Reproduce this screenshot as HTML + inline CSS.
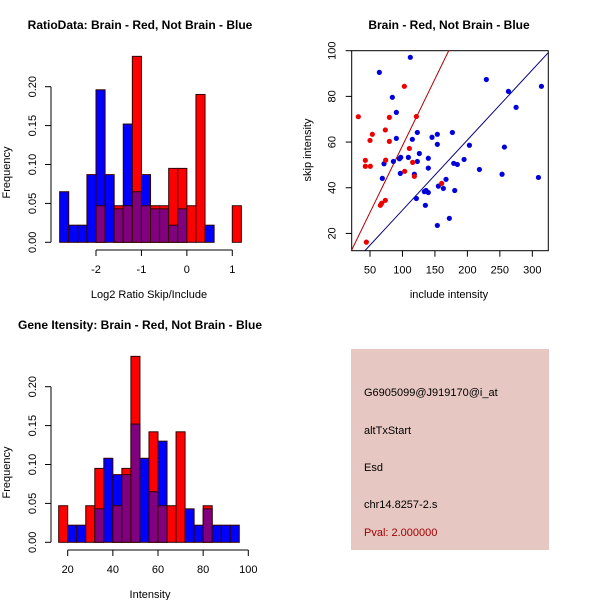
<!DOCTYPE html>
<html><head><meta charset="utf-8">
<style>
body{margin:0;background:#fff;}
svg{display:block;font-family:"Liberation Sans",sans-serif;}
</style></head>
<body>
<svg id="c" width="600" height="600" xmlns="http://www.w3.org/2000/svg">
<rect width="600" height="600" fill="#fff"/>
<text x="140" y="29" text-anchor="middle" font-size="12" font-weight="bold">RatioData: Brain - Red, Not Brain - Blue</text>
<text x="449" y="29" text-anchor="middle" font-size="12" font-weight="bold">Brain - Red, Not Brain - Blue</text>
<text x="140" y="329" text-anchor="middle" font-size="12" font-weight="bold">Gene Itensity: Brain - Red, Not Brain - Blue</text>
<g id="h1"></g>
<g id="sc"></g>
<g id="h2"></g>
<g>
<rect x="351" y="349" width="198" height="201" fill="#e6c7c1"/>
<text x="364" y="396" font-size="11">G6905099@J919170@i_at</text>
<text x="364" y="434" font-size="11">altTxStart</text>
<text x="364" y="471" font-size="11">Esd</text>
<text x="364" y="508" font-size="11">chr14.8257-2.s</text>
<text x="364" y="536" font-size="11" fill="#a00000">Pval: 2.000000</text>
</g>
</svg>
<script>
// Ratio histogram data
const ratioStart = -2.8, ratioBinWidth = 0.2;
const ratioBlue = [0.065,0.022,0.022,0.087,0.196,0.087,0.043,0.152,0.065,0.087,0.043,0.043,0.022,0.043,0,0,0.022,0,0,0];
const ratioRed  = [0,0,0,0,0.047,0,0.047,0.047,0.239,0.047,0.047,0.047,0.095,0.095,0.047,0.19,0,0,0,0.047];
const ratioXTicks = [-2,-1,0,1];
const freqTicks = [0,0.05,0.10,0.15,0.20];
const freqTickLabels = ["0.00","0.05","0.10","0.15","0.20"];
// Intensity histogram data
const intStart = 16, intBinWidth = 4;
const intBlue = [0,0.022,0.022,0,0.043,0.108,0.087,0.087,0.152,0.108,0.065,0.130,0,0,0.043,0.022,0.043,0.022,0.022,0.022];
const intRed  = [0.047,0,0,0.047,0.095,0,0.047,0.095,0.239,0,0.142,0.047,0.047,0.142,0,0,0.047,0,0,0];
const intXTicks = [20,40,60,80,100];
// Scatter data
const redInclude = [32,102.9,121.4,79.8,73.6,53.6,50,79.8,110.6,42.8,74.1,42.8,50.5,115.7,103.4,118.3,65.9,68,73.6,160.4,44.4];
const redSkip    = [71.1,84.4,71.2,70.8,65.3,63.4,60.7,60.3,57.2,52,52.1,49.4,49.4,51.1,47.2,45,32.3,33.2,34.5,41.9,16.2];
const blueInclude = [112.1,64.4,229.2,314,263.2,275,84.4,90.6,122.9,176.9,153.7,145.5,90.6,115.2,153.7,203.1,257,126,109.1,97.3,95.3,139.8,194.9,86,71.6,122.9,178.9,184.5,139.8,218.5,96.7,118.3,253.4,309.4,69,167.1,155.3,163,180.5,136.3,133.7,139.8,121.4,135.3,172.2,153.7];
const blueSkip    = [97.1,90.5,87.4,84.4,82.2,75.2,79.6,73,64.2,64.2,63.4,62.1,61.6,61.2,59,58.6,57.8,55,53.3,53.3,52.7,52.9,52.4,51.5,50.5,51.5,50.7,50.2,48.6,48,46.3,45.9,45.9,44.5,44.1,43.7,40.7,39.7,38.8,38.8,38.3,37.9,35.3,32.3,26.6,23.5];
const xTicksSc = [50,100,150,200,250,300];
const yTicksSc = [20,40,60,80,100];
const redLine = [0,0.584];   // intercept, slope
const blueLine = [-0.5,0.307];

const NS = "http://www.w3.org/2000/svg";
function mk(parent, tag, attrs, text){
  const e = document.createElementNS(NS, tag);
  for (const k in attrs) e.setAttribute(k, attrs[k]);
  if (text !== undefined) e.textContent = text;
  parent.appendChild(e);
  return e;
}

function hist(gid, start, bw, blue, red, xTicks, xScale, yScale, x0, xLabel, labX, labY, axisY, yAxisX){
  const g = document.getElementById(gid);
  for (let i = 0; i < blue.length; i++){
    const xa = xScale(start + i*bw), xb = xScale(start + (i+1)*bw);
    const b = blue[i], r = red[i];
    const hi = Math.max(b, r), lo = Math.min(b, r);
    if (hi > 0){
      const el = mk(g, "rect", {x: xa, y: yScale(hi), width: xb - xa, height: yScale(0) - yScale(hi), fill: r >= b ? "#ff0000" : "#0000ff", stroke: "#300", "stroke-width": 1});
      
      
    }
    if (lo > 0){
      const el = mk(g, "rect", {x: xa, y: yScale(lo), width: xb - xa, height: yScale(0) - yScale(lo), fill: "#800080", stroke: "#300", "stroke-width": 1});
      
      
    }
  }
  const ya = mk(g, "line", {x1: yAxisX, x2: yAxisX, y1: yScale(0), y2: yScale(0.2), stroke: "#000"});
  
  
  freqTicks.forEach((t, i) => {
    const y = yScale(t);
    mk(g, "line", {x1: yAxisX - 6, x2: yAxisX, y1: y, y2: y, stroke: "#000"});
    const tx = mk(g, "text", {x: yAxisX - 15, y: y, "font-size": 11, "text-anchor": "middle", transform: `rotate(-90 ${yAxisX - 15} ${y})`}, freqTickLabels[i]);
    
    
  });
  const yl = mk(g, "text", {x: 10, y: (yScale(0) + yScale(0.2))/2 + 8, "font-size": 11, "text-anchor": "middle", transform: `rotate(-90 10 ${(yScale(0)+yScale(0.2))/2 + 8})`}, "Frequency");
  
  
  const xa = mk(g, "line", {x1: xScale(xTicks[0]), x2: xScale(xTicks[xTicks.length-1]), y1: axisY, y2: axisY, stroke: "#000"});
  
  
  xTicks.forEach(t => {
    const x = xScale(t);
    mk(g, "line", {x1: x, x2: x, y1: axisY, y2: axisY + 6, stroke: "#000"});
    const tx = mk(g, "text", {x: x, y: axisY + 23, "font-size": 11, "text-anchor": "middle"}, String(t));
    
    
  });
  const xl = mk(g, "text", {x: labX, y: labY, "font-size": 11, "text-anchor": "middle"}, xLabel);
  
  
}

const r1x = v => 96 + (v + 2) * 45.43;
const r1y = v => 242.3 - v * 778;
hist("h1", ratioStart, ratioBinWidth, ratioBlue, ratioRed, ratioXTicks, r1x, r1y, 0, "Log2 Ratio Skip/Include", 149, 298, 250, 51);

const r2x = v => 67.7 + (v - 20) * 2.2575;
const r2y = v => 542.3 - v * 778;
hist("h2", intStart, intBinWidth, intBlue, intRed, intXTicks, r2x, r2y, 0, "Intensity", 150, 598, 550, 51);

(function(){
  const g = document.getElementById("sc");
  const sx = v => 370 + (v - 50) * 0.6493;
  const sy = v => 50.7 + (100 - v) * 2.284;
  const left = 351.7, right = 548.3, top = 50.7, bottom = 250.7;
  const cp = mk(g, "clipPath", {id: "scclip"});
  mk(cp, "rect", {x: left, y: top, width: right - left, height: bottom - top});
  const frame = mk(g, "rect", {x: left, y: top, width: right - left, height: bottom - top, fill: "none", stroke: "#000"});
  
  
  const xmin = 21.8, xmax = 324.7;
  [[redLine, "#b00000", "red-fit-line"], [blueLine, "#000080", "blue-fit-line"]].forEach(([ln, col, nm]) => {
    const l = mk(g, "line", {x1: sx(xmin), y1: sy(ln[0] + ln[1]*xmin), x2: sx(xmax), y2: sy(ln[0] + ln[1]*xmax), stroke: col, "clip-path": "url(#scclip)"});
    
    
  });
  blueInclude.forEach((v, i) => {
    const c = mk(g, "circle", {cx: sx(v), cy: sy(blueSkip[i]), r: 2.6, fill: "#0000dd"});
    
    
  });
  redInclude.forEach((v, i) => {
    const c = mk(g, "circle", {cx: sx(v), cy: sy(redSkip[i]), r: 2.6, fill: "#ee0000"});
    
    
  });
  xTicksSc.forEach(t => {
    const x = sx(t);
    mk(g, "line", {x1: x, x2: x, y1: bottom, y2: bottom + 6, stroke: "#000"});
    const tx = mk(g, "text", {x: x, y: bottom + 23, "font-size": 11, "text-anchor": "middle"}, String(t));
    
    
  });
  yTicksSc.forEach(t => {
    const y = sy(t);
    mk(g, "line", {x1: left - 6, x2: left, y1: y, y2: y, stroke: "#000"});
    const tx = mk(g, "text", {x: left - 16, y: y, "font-size": 11, "text-anchor": "middle", transform: `rotate(-90 ${left - 16} ${y})`}, String(t));
    
    
  });
  const xl = mk(g, "text", {x: 449, y: 298, "font-size": 11, "text-anchor": "middle"}, "include intensity");
  
  
  const yl = mk(g, "text", {x: 311, y: 150, "font-size": 11, "text-anchor": "middle", transform: "rotate(-90 311 150)"}, "skip intensity");
  
  
})();
</script>
</body></html>
